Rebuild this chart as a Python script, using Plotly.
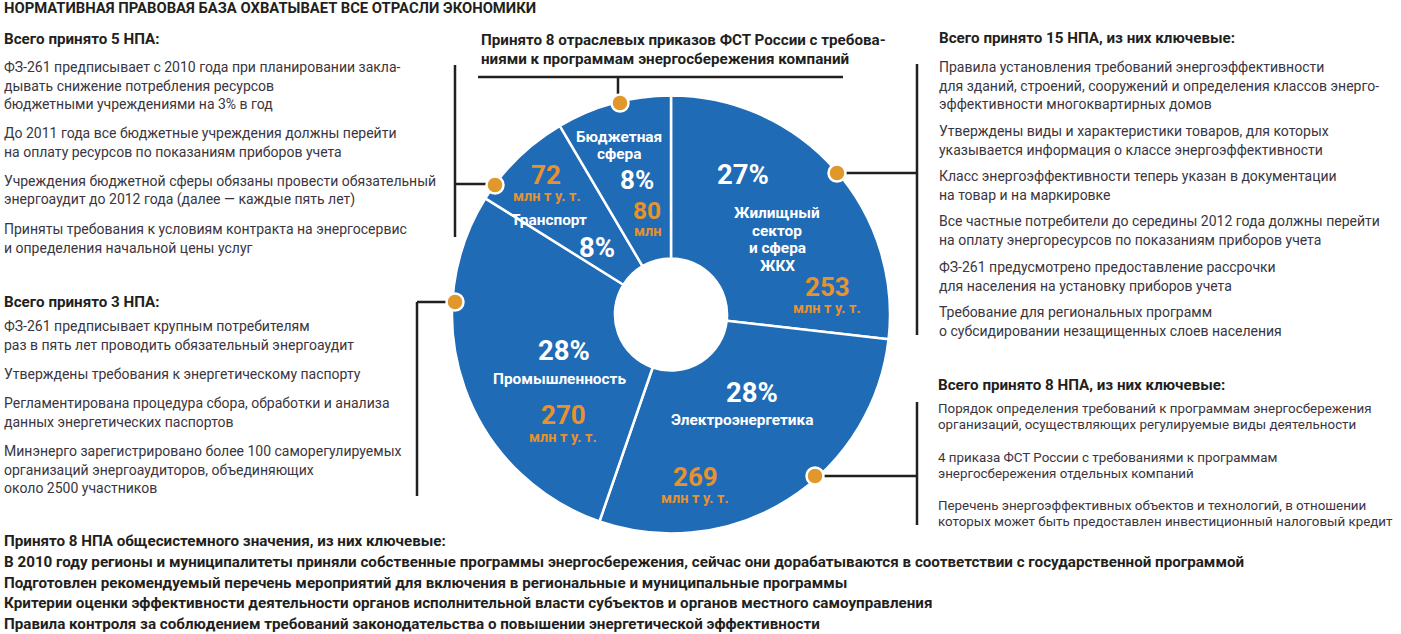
import plotly.graph_objects as go

W, H = 1401, 634

# ---------------- data ----------------
sectors = ["Жилищный сектор и сфера ЖКХ", "Электроэнергетика", "Промышленность", "Транспорт", "Бюджетная сфера"]
consumption = [253, 269, 270, 72, 80]          # млн т у. т.
share_labels = ["27%", "28%", "28%", "8%", "8%"]
unit_labels = ["млн т у. т.", "млн т у. т.", "млн т у. т.", "млн т у. т.", "млн"]

title = "НОРМАТИВНАЯ ПРАВОВАЯ БАЗА ОХВАТЫВАЕТ ВСЕ ОТРАСЛИ ЭКОНОМИКИ"

budget_head = "Всего принято 5 НПА:"
budget_items = [
    ["ФЗ-261 предписывает с 2010 года при планировании закла-",
     "дывать снижение потребления ресурсов",
     "бюджетными учреждениями на 3% в год"],
    ["До 2011 года все бюджетные учреждения должны перейти",
     "на оплату ресурсов по показаниям приборов учета"],
    ["Учреждения бюджетной сферы обязаны провести обязательный",
     "энергоаудит до 2012 года (далее — каждые пять лет)"],
    ["Приняты требования к условиям контракта на энергосервис",
     "и определения начальной цены услуг"],
]

industry_head = "Всего принято 3 НПА:"
industry_items = [
    ["ФЗ-261 предписывает крупным потребителям",
     "раз в пять лет проводить обязательный энергоаудит"],
    ["Утверждены требования к энергетическому паспорту"],
    ["Регламентирована процедура сбора, обработки и анализа",
     "данных энергетических паспортов"],
    ["Минэнерго зарегистрировано более 100 саморегулируемых",
     "организаций энергоаудиторов, объединяющих",
     "около 2500 участников"],
]

housing_head = "Всего принято 15 НПА, из них ключевые:"
housing_items = [
    ["Правила установления требований энергоэффективности",
     "для зданий, строений, сооружений и определения классов энерго-",
     "эффективности многоквартирных домов"],
    ["Утверждены виды и характеристики товаров, для которых",
     "указывается информация о классе энергоэффективности"],
    ["Класс энергоэффективности теперь указан в документации",
     "на товар и на маркировке"],
    ["Все частные потребители до середины 2012 года должны перейти",
     "на оплату энергоресурсов по показаниям приборов учета"],
    ["ФЗ-261 предусмотрено предоставление рассрочки",
     "для населения на установку приборов учета"],
    ["Требование для региональных программ",
     "о субсидировании незащищенных слоев населения"],
]

power_head = "Всего принято 8 НПА, из них ключевые:"
power_items = [
    ["Порядок определения требований к программам энергосбережения",
     "организаций, осуществляющих регулируемые виды деятельности"],
    ["4 приказа ФСТ России с требованиями к программам",
     "энергосбережения отдельных компаний"],
    ["Перечень энергоэффективных объектов и технологий, в отношении",
     "которых может быть предоставлен инвестиционный налоговый кредит"],
]

transport_head = ["Принято 8 отраслевых приказов ФСТ России с требова-",
                  "ниями к программам энергосбережения компаний"]

general_head = "Принято 8 НПА общесистемного значения, из них ключевые:"
general_items = [
    "В 2010 году регионы и муниципалитеты приняли собственные программы энергосбережения, сейчас они дорабатываются в соответствии с государственной программой",
    "Подготовлен рекомендуемый перечень мероприятий для включения в региональные и муниципальные программы",
    "Критерии оценки эффективности деятельности органов исполнительной власти субъектов и органов местного самоуправления",
    "Правила контроля за соблюдением требований законодательства о повышении энергетической эффективности",
]

# ---------------- style ----------------
FONT = "Roboto, Liberation Sans, sans-serif"
BLUE = "#1f6bb5"
ORANGE_DOT = "#e0982a"
ORANGE_TXT = "#e8922e"
DARK = "#231f20"
BODY = "#3a3540"

CX, CY, R = 671, 314.5, 219
HOLE = 0.256

fig = go.Figure()

fig.add_trace(go.Pie(
    labels=sectors, values=consumption, sort=False, direction="clockwise",
    rotation=0, hole=HOLE, textinfo="none", hoverinfo="label+value",
    marker=dict(colors=[BLUE] * len(sectors), line=dict(color="white", width=2.5)),
    domain=dict(x=[(CX - R) / W, (CX + R) / W], y=[1 - (CY + R) / H, 1 - (CY - R) / H]),
    showlegend=False,
))

# invisible pixel-coordinate axes for decorations
fig.update_layout(
    xaxis=dict(range=[0, W], visible=False, domain=[0, 1], fixedrange=True),
    yaxis=dict(range=[H, 0], visible=False, domain=[0, 1], fixedrange=True),
)

ann = []

def text(x, y, s, size, color=BODY, bold=False, anchor="left"):
    ann.append(dict(x=x, y=y, xref="x", yref="y", text=(f"<b>{s}</b>" if bold else s),
                    showarrow=False, xanchor=anchor, yanchor="middle", borderpad=0,
                    font=dict(family=FONT, size=size, color=color)))

BODY_SIZE = 14
HEAD_SIZE = 15.2

def block(x, head, head_y, items, starts, step, size=BODY_SIZE):
    text(x, head_y, head, HEAD_SIZE, DARK, bold=True)
    for para, y0 in zip(items, starts):
        for i, line in enumerate(para):
            text(x, y0 + i * step, line, size)

# title
text(3, 8, title, 14.8, DARK, bold=True)

# left blocks
block(3, budget_head, 39, budget_items, [67, 133, 181, 229], 18.7)
block(3, industry_head, 302, industry_items, [326, 374, 403, 451], 18.7)
# right blocks
block(938, housing_head, 38, housing_items, [67, 131, 176, 221, 267, 312], 18.5)
block(937, power_head, 385, power_items, [408, 457, 505], 16.8, size=13.35)

# top centre heading
text(480, 40, transport_head[0], HEAD_SIZE, DARK, bold=True)
text(480, 59, transport_head[1], HEAD_SIZE, DARK, bold=True)

# bottom heading
text(3, 541, general_head, 15.2, DARK, bold=True)
for i, line in enumerate(general_items):
    text(3, 562 + i * 20.7, line, 15.2, DARK, bold=True)

# slice labels (name lines, share, value, unit)
slice_text = [
    dict(name=["Жилищный", "сектор", "и сфера", "ЖКХ"], name_xy=(777, 213), name_step=17.5,
         share_xy=(743, 174), share_size=27.5, val_xy=(827, 287), val_size=26, unit_xy=(827, 308)),
    dict(name=["Электроэнергетика"], name_xy=(742, 420), name_step=17.5,
         share_xy=(752, 392), share_size=27.5, val_xy=(695, 477), val_size=26, unit_xy=(695, 498)),
    dict(name=["Промышленность"], name_xy=(559, 379), name_step=17.5,
         share_xy=(564, 350), share_size=27.5, val_xy=(563, 415), val_size=26, unit_xy=(563, 437)),
    dict(name=["Транспорт"], name_xy=(549, 220), name_step=17.5,
         share_xy=(597, 247), share_size=27.5, val_xy=(546, 175), val_size=26, unit_xy=(547, 196)),
    dict(name=["Бюджетная", "сфера"], name_xy=(619, 137), name_step=17,
         share_xy=(637, 180), share_size=26, val_xy=(647, 210), val_size=24.5, unit_xy=(647, 231)),
]
for i, st in enumerate(slice_text):
    nx, ny = st["name_xy"]
    for k, line in enumerate(st["name"]):
        text(nx, ny + k * st["name_step"], line, 15.4, "white", bold=True, anchor="center")
    text(*st["share_xy"], share_labels[i], st["share_size"], "white", bold=True, anchor="center")
    text(*st["val_xy"], str(consumption[i]), st["val_size"], ORANGE_TXT, bold=True, anchor="center")
    text(*st["unit_xy"], unit_labels[i], 14.5, ORANGE_TXT, bold=True, anchor="center")

# connector lines (pixel coordinates)
segments = [
    [(478, 77), (843, 77)], [(618, 77), (618, 95)],                 # top
    [(455, 65), (455, 237)], [(455, 184), (490, 184)],              # left top
    [(417, 302), (417, 496)], [(417, 302), (450, 302)],             # left middle
    [(917, 64), (917, 335)], [(842, 173), (917, 173)],              # right top
    [(917, 402), (917, 525)], [(820, 476), (917, 476)],             # right bottom
]
for seg in segments:
    fig.add_trace(go.Scatter(x=[p[0] for p in seg], y=[p[1] for p in seg], mode="lines",
                             line=dict(color=DARK, width=2.5), hoverinfo="skip", showlegend=False))

# orange marker dots on the ring edge (drawn above the pie)
dots = [(620, 103), (495, 185), (455, 302), (837, 173), (815, 476)]
shapes = []
for dx, dy in dots:
    shapes.append(dict(type="circle", xref="x", yref="y", layer="above",
                       x0=dx - 8.5, x1=dx + 8.5, y0=dy - 8.5, y1=dy + 8.5,
                       fillcolor=ORANGE_DOT, line=dict(color="white", width=2.5)))

fig.update_layout(
    width=W, height=H, margin=dict(l=0, r=0, t=0, b=0),
    paper_bgcolor="white", plot_bgcolor="rgba(0,0,0,0)",
    annotations=ann, shapes=shapes, showlegend=False,
)

fig.write_html("out.html", config={"displayModeBar": False},
               post_script="document.body.style.margin='0';document.body.style.overflow='hidden';")
